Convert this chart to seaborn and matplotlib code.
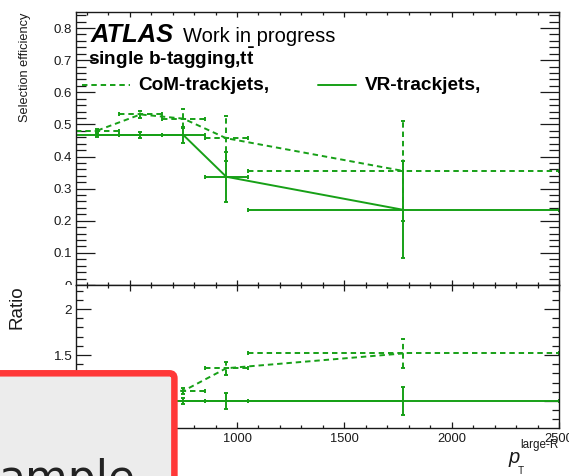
import numpy as np
import pandas as pd
import matplotlib
matplotlib.use("Agg")
import matplotlib.pyplot as plt
import seaborn as sns
from matplotlib.patches import FancyBboxPatch
from matplotlib.lines import Line2D
from matplotlib.transforms import Bbox, TransformedBbox

# pT bins of the large-R jet
bin_low = [250, 450, 650, 850, 1050]
bin_high = [450, 650, 850, 1050, 2500]
bin_center = [350, 550, 750, 950, 1775]

# selection efficiencies and their uncertainties
eff_com = [0.481, 0.531, 0.518, 0.457, 0.355]
err_com = [0.005, 0.010, 0.030, 0.070, 0.156]
eff_vr = [0.467, 0.467, 0.467, 0.337, 0.234]
err_vr = [0.006, 0.009, 0.026, 0.078, 0.151]

# uncertainties on the ratio to VR-trackjets
ratio_err_com = [0.015, 0.020, 0.033, 0.072, 0.160]
ratio_err_vr = [0.012, 0.018, 0.030, 0.087, 0.150]

eff_ticks = [0.0, 0.1, 0.2, 0.3, 0.4, 0.5, 0.6, 0.7, 0.8]
eff_tick_labels = ["0", "0.1", "0.2", "0.3", "0.4", "0.5", "0.6", "0.7", "0.8"]
ratio_ticks = [1.0, 1.5, 2.0]
ratio_tick_labels = ["1", "1.5", "2"]
pt_ticks = [500, 1000, 1500, 2000, 2500]
pt_tick_labels = ["500", "1000", "1500", "2000", "2500"]

sns.set_style("white")
plt.rcParams["font.family"] = ["Liberation Sans", "DejaVu Sans"]
plt.rcParams["mathtext.fontset"] = "custom"
plt.rcParams["mathtext.rm"] = "Liberation Sans"
plt.rcParams["mathtext.it"] = "Liberation Sans:italic"
plt.rcParams["mathtext.bf"] = "Liberation Sans:bold"

GREEN = "#17a017"
LW = 1.4
DASH = (0, (2.8, 2.0))
INK = "#1a1a1a"

W, H = 569, 476
fig = plt.figure(figsize=(W / 100, H / 100), dpi=100)
fig.patch.set_facecolor("white")

ax_top = fig.add_axes([76 / W, (H - 285) / H, 483 / W, 273 / H])
ax_bot = fig.add_axes([76 / W, (H - 428) / H, 483 / W, 143 / H])


def draw_series(ax, values, errors, dashed):
    df = pd.DataFrame({"pt": bin_center, "val": values})
    sns.lineplot(data=df, x="pt", y="val", ax=ax, color=GREEN, lw=LW,
                 errorbar=None, sort=False)
    line = ax.lines[-1]
    if dashed:
        line.set_linestyle(DASH)
    xerr = [[c - lo for c, lo in zip(bin_center, bin_low)],
            [hi - c for c, hi in zip(bin_center, bin_high)]]
    eb = ax.errorbar(bin_center, values, xerr=xerr, yerr=errors, fmt="none",
                     ecolor=GREEN, elinewidth=LW, capsize=1.5, capthick=LW)
    if dashed:
        for col in eb.lines[2]:
            col.set_linestyle(DASH)


# efficiency panel
draw_series(ax_top, eff_com, err_com, dashed=True)
draw_series(ax_top, eff_vr, err_vr, dashed=False)

# ratio panel, CoM over VR
ratio_com = [c / v for c, v in zip(eff_com, eff_vr)]
ratio_vr = [v / v for v in eff_vr]
draw_series(ax_bot, ratio_com, ratio_err_com, dashed=True)
draw_series(ax_bot, ratio_vr, ratio_err_vr, dashed=False)

for ax in (ax_top, ax_bot):
    ax.set_xlim(250, 2500)
    ax.set_xlabel("")
    ax.set_ylabel("")
    for s in ax.spines.values():
        s.set_visible(True)
        s.set_color(INK)
        s.set_linewidth(1.0)
    ax.set_xticks(pt_ticks)
    ax.set_xticks(np.arange(300, 2500, 100), minor=True)

ax_top.set_ylim(0, 0.85)
ax_top.set_yticks(eff_ticks, eff_tick_labels)
ax_top.set_yticks(np.arange(0.02, 0.85, 0.02), minor=True)
ax_top.set_xticklabels([])
ax_top.tick_params(axis="y", which="major", direction="in", length=13.5, width=0.9,
                   left=True, right=True, labelsize=9.5, pad=3.0, colors=INK)
ax_top.tick_params(axis="y", which="minor", direction="in", length=7.0, width=0.9,
                   left=True, right=True, colors=INK)
ax_top.tick_params(axis="x", which="major", direction="in", length=3.8, width=0.9,
                   bottom=True, top=True, labelbottom=False, colors=INK)
ax_top.tick_params(axis="x", which="minor", direction="in", length=2.2, width=0.9,
                   bottom=True, top=True, colors=INK)

ax_bot.set_ylim(0.7065, 2.261)
ax_bot.set_yticks(ratio_ticks, ratio_tick_labels)
ax_bot.set_yticks(np.arange(0.8, 2.25, 0.1), minor=True)
ax_bot.set_xticks(pt_ticks, pt_tick_labels)
ax_bot.tick_params(axis="y", which="major", direction="in", length=10.8, width=0.9,
                   left=True, right=True, labelsize=9.7, pad=3.0, colors=INK)
ax_bot.tick_params(axis="y", which="minor", direction="in", length=5.0, width=0.9,
                   left=True, right=True, colors=INK)
ax_bot.tick_params(axis="x", which="major", direction="in", length=4.3, width=0.9,
                   bottom=True, top=True, labelsize=9.3, pad=3.4, colors=INK)
ax_bot.tick_params(axis="x", which="minor", direction="in", length=2.2, width=0.9,
                   bottom=True, top=True, colors=INK)

# the "0" of the efficiency axis is cut where the ratio panel begins
fig.canvas.draw()
clip = TransformedBbox(Bbox([[0, (H - 285) / H], [1, 1]]), fig.transFigure)
for lab in ax_top.get_yticklabels():
    if lab.get_text() == "0":
        lab.set_clip_on(True)
        lab.set_clip_box(clip)

# labels
ax_top.text(0.031, 0.891, "ATLAS", transform=ax_top.transAxes, fontsize=18.4,
            fontweight="bold", fontstyle="italic", color="black", va="baseline")
ax_top.text((183 - 76) / 483, 0.891, "Work in progress", transform=ax_top.transAxes,
            fontsize=14.5, color="black", va="baseline")
ax_top.text((88 - 76) / 483, 0.806, r"single b-tagging,$\mathbf{t\bar{t}}$",
            transform=ax_top.transAxes, fontsize=13.7, fontweight="bold",
            color="black", va="baseline")

# legend entries
leg_y = (285 - 85) / 273
ax_top.add_line(Line2D([(82 - 76) / 483, (130 - 76) / 483], [leg_y, leg_y],
                       transform=ax_top.transAxes, color=GREEN, lw=LW, ls=DASH))
ax_top.text((138 - 76) / 483, (285 - 89.5) / 273, "CoM-trackjets,",
            transform=ax_top.transAxes, fontsize=13.7, fontweight="bold",
            color="black", va="baseline")
ax_top.add_line(Line2D([(318 - 76) / 483, (356 - 76) / 483], [leg_y, leg_y],
                       transform=ax_top.transAxes, color=GREEN, lw=LW))
ax_top.text((365 - 76) / 483, (285 - 89.5) / 273, "VR-trackjets,",
            transform=ax_top.transAxes, fontsize=13.7, fontweight="bold",
            color="black", va="baseline")

fig.text(25 / W, 1 - 13 / H, "Selection efficiency", rotation=90, ha="center",
         va="top", fontsize=9.2, color=INK)
fig.text(17 / W, 1 - 285 / H, "Ratio", rotation=90, ha="center", va="top",
         fontsize=13.5, color=INK)

# axis title p_T^{large-R}
fig.text(509 / W, 1 - 463 / H, "p", fontsize=14.5, fontstyle="italic",
         color=INK, va="baseline")
fig.text(520 / W, 1 - 448 / H, "large-R", fontsize=8.4, color=INK, va="baseline")
fig.text(517.5 / W, 1 - 474 / H, "T", fontsize=7.2, color=INK, va="baseline")

# overlay box in the lower left corner
box = FancyBboxPatch((-30, -30), 174.4 + 30, (H - 373.3) + 30,
                     boxstyle="round,pad=0,rounding_size=5",
                     transform=None, facecolor="#ececec", edgecolor="#ff3838",
                     linewidth=4.7, zorder=10)
fig.add_artist(box)
fig.text(-2 / W, -16 / H, "ample", fontsize=31.7, family="DejaVu Sans",
         color="#222222", va="baseline", ha="left", zorder=11)

fig.savefig("out.png", dpi=100)
